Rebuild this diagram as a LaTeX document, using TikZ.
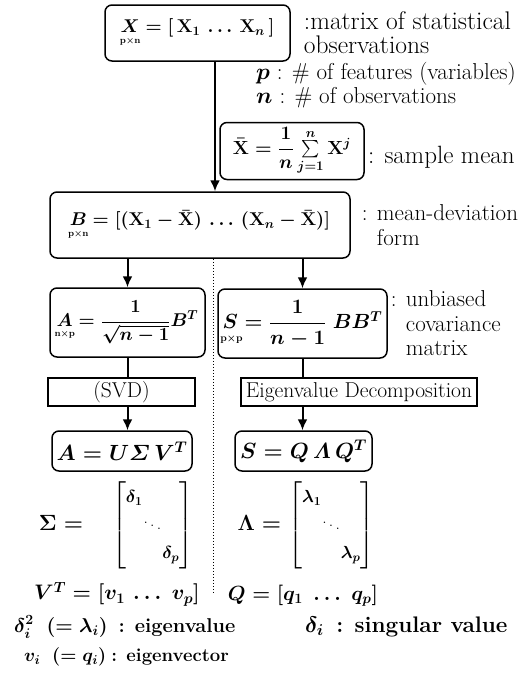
\RequirePackage{fix-cm}
\documentclass[tikz,border=0pt]{standalone}
\usepackage{amsmath}
\usetikzlibrary{positioning, arrows.meta}
\newcommand{\dimsub}[3][c]{\underset{\makebox[0pt][#1]{$\scriptscriptstyle\mathbf{#2}$}}{#3}}

\begin{document}
\begin{tikzpicture}[x=1pt, y=-1pt, >={Latex[length=11pt, width=10pt]},
    box/.style={draw, line width=1.5pt, rounded corners=7pt, inner sep=0pt,
                font=\fontsize{22}{26}\selectfont\boldmath},
    flat/.style={draw, line width=1.3pt, inner sep=0pt, font=\fontsize{21.5}{24}\selectfont},
    lbl/.style={align=left, inner sep=0pt, font=\fontsize{23}{25}\selectfont\boldmath},
    fs/.style={font=\fontsize{#1}{#1}\selectfont\boldmath},
    flow/.style={->, line width=2pt},
    link/.style={line width=2pt}]
    \useasboundingbox (0,0) rectangle (524,675);

    % data and mean
    \node[box, fs=18.5, minimum width=185pt, minimum height=56pt] (X) at (197.5,33)
        {$\dimsub{p\times n}{X} = [\,\mathbf{X}_1 \,\ldots\, \mathbf{X}_n\,]$};
    \node[lbl, font=\fontsize{25.5}{24}\selectfont, right=13pt of X] (Xlbl) {:matrix of statistical\\observations};
    \node[lbl, anchor=west] (plbl) at (256,74) {$p$ : \# of features (variables)};
    \node[lbl, anchor=west] (nlbl) at (256,98) {$n$ : \# of observations};
    \node[box, fs=19, minimum width=144pt, minimum height=57pt] (Xbar) at (292,151)
        {$\bar{\mathbf{X}} = \dfrac{1}{n}\sum\limits_{j=1}^{n}\mathbf{X}^{j}$};
    \node[lbl, font=\fontsize{25}{25}\selectfont, anchor=west] (Xbarlbl) at (368,157) {: sample mean};
    \node[box, fs=18.5, minimum width=300pt, minimum height=66pt] (B) at (200,225)
        {$\dimsub{p\times n}{B} = [(\mathbf{X}_1 - \bar{\mathbf{X}}) \,\ldots\, (\mathbf{X}_n - \bar{\mathbf{X}})]$};
    \node[lbl, right=11pt of B] (Blbl) {: mean-deviation\\\phantom{: }form};

    % two branches
    \node[box, fs=18.5, minimum width=155pt, minimum height=69pt] (A) at (127.5,322.5)
        {$\dimsub{n\times p}{A} = \dfrac{1}{\sqrt{n-1}}B^T$};
    \node[box, fs=20.5, minimum width=169pt, minimum height=69pt] (S) at (302.5,323.5)
        {$\dimsub[l]{p\times p}{S} = \dfrac{1}{n-1}\;BB^T$};
    \node[lbl, font=\fontsize{23}{24.5}\selectfont, right=3pt of S] (Slbl) {: unbiased\\\phantom{: }covariance\\\phantom{: }matrix};
    \node[flat, minimum width=147pt, minimum height=28pt] (SVD) at (121.5,392) {(SVD)};
    \node[flat, minimum width=236pt, minimum height=28pt] (Eig) at (359,392) {Eigenvalue Decomposition};
    \node[box, minimum width=140pt, minimum height=40pt] (USV) at (122,451) {$A = U\varSigma\, V^T$};
    \node[box, minimum width=137pt, minimum height=40pt] (QLQ) at (303.5,451) {$S = Q\,\varLambda\, Q^T$};

    % results
    \node[lbl, font=\fontsize{22}{26}\selectfont\boldmath] (Sig) at (116,525) {$\boldsymbol{\Sigma} = \hspace{22pt}
        {\fontsize{17.5}{20}\selectfont\arraycolsep=0pt\renewcommand{\arraystretch}{1.4}%
        \begin{bmatrix}\delta_1 & & \\ & \ddots & \\ & & \delta_p\end{bmatrix}}$};
    \node[lbl, font=\fontsize{22}{26}\selectfont\boldmath] (Lam) at (306,525) {$\boldsymbol{\Lambda} =
        {\fontsize{17.5}{20}\selectfont\arraycolsep=0pt\renewcommand{\arraystretch}{1.4}%
        \begin{bmatrix}\lambda_1 & & \\ & \ddots & \\ & & \lambda_p\end{bmatrix}}$};
    \node[lbl, fs=21] (Vt) at (117,594) {$V^T = [v_1 \,\ldots\; v_p]$};
    \node[lbl, fs=20.5] (Qv) at (303,596) {$Q = [q_1 \;\ldots\; q_p]$};
    \node[lbl, fs=20, anchor=west] (eigval) at (14,627) {$\delta^2_i\;\;(=\lambda_i)$\;\;\textbf{: eigenvalue}};
    \node[lbl, fs=22.5, anchor=west] (singval) at (305,627) {$\delta_i$\;\;\textbf{: singular value}};
    \node[lbl, fs=18.5, anchor=west] (eigvec) at (24,657) {$v_i\;\;(=q_i)$\;\textbf{: eigenvector}};

    \coordinate (dotend) at (213,594);
    \draw[flow] ([xshift=17.5pt]X.south) -- ([xshift=15pt]B.north);
    \draw[flow] (B.south -| A.north) -- (A.north);
    \draw[flow] (B.south -| S.north) -- (S.north);
    \draw[link] (A.south) -- (A.south |- SVD.north);
    \draw[flow] (SVD.south -| A.south) -- (USV.north -| A.south);
    \draw[link] (S.south) -- (S.south |- Eig.north);
    \draw[flow] (Eig.south -| S.south) -- (QLQ.north -| S.south);
    \draw[dotted, line width=1pt] ([xshift=13pt]B.south) -- (dotend);
\end{tikzpicture}
\end{document}
